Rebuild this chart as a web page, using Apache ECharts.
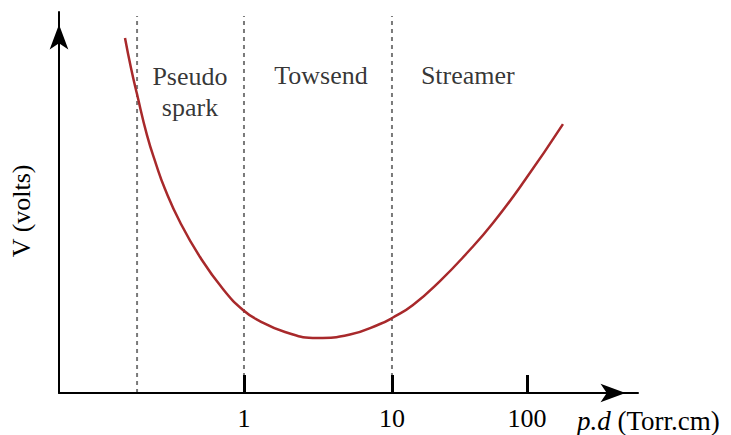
<!DOCTYPE html>
<html>
<head>
<meta charset="utf-8">
<script src="https://cdn.jsdelivr.net/npm/echarts@6/dist/echarts.min.js"></script>
<style>
html,body{margin:0;padding:0;background:#fff;}
#chart{width:731px;height:435px;}
</style>
</head>
<body>
<div id="chart"></div>
<script>
// Paschen curve, x in diagram units (log p.d positions), y in diagram units (V)
const curveX = [1.784, 1.946, 2.108, 2.378, 2.622, 2.865, 3.270, 3.811, 4.432, 4.973, 5.378, 6.108, 6.973, 7.865, 8.676, 9.027, 9.568, 10.297, 11.027, 11.730, 12.595, 13.622];
const curveY = [9.595, 8.784, 8.081, 6.973, 6.189, 5.514, 4.622, 3.676, 2.811, 2.243, 1.973, 1.649, 1.486, 1.581, 1.865, 2.041, 2.378, 3.027, 3.784, 4.595, 5.757, 7.270];
const regionBounds = [2.11, 5.0, 9.0];
const regionNames = ['Pseudo\nspark', 'Towsend', 'Streamer'];
const regionLabelX = [3.54, 7.08, 11.05];
const regionLabelY = [8.14, 8.57, 8.57];
const tickPos = [5.0, 9.0, 12.65];
const tickLabels = ['1', '10', '100'];
const xTitle = '{i|p.d} (Torr.cm)';
const yTitle = 'V (volts)';
const xMax = 15.65, yMax = 10.3, boundTop = 10.19;

const FONT = "'Liberation Serif', 'DejaVu Serif', serif";
const chart = echarts.init(document.getElementById('chart'), null, {renderer: 'svg'});

const series = [];
regionBounds.forEach(function (b) {
  series.push({
    type: 'line', symbol: 'none', silent: true, clip: false,
    data: [[b, 0], [b, boundTop]],
    lineStyle: {color: '#7a7a7a', width: 2, type: [4, 4]},
    z: 1
  });
});
series.push({
  type: 'line', symbol: 'none', smooth: 0.5,
  data: curveX.map(function (x, i) { return [x, curveY[i]]; }),
  lineStyle: {color: '#a8292b', width: 2.5},
  z: 4
});
series.push({
  type: 'scatter', symbolSize: 0,
  data: regionNames.map(function (n, i) { return {value: [regionLabelX[i], regionLabelY[i]], name: n}; }),
  label: {
    show: true, position: 'inside', formatter: '{b}',
    fontFamily: FONT, fontSize: 26, color: '#000', lineHeight: 31, align: 'center', verticalAlign: 'middle'
  },
  z: 5
});

chart.setOption({
  animation: false,
  backgroundColor: '#fff',
  grid: {left: 59, top: 12, right: 93, bottom: 42, containLabel: false, outerBoundsMode: 'none'},
  graphic: [{
    type: 'text', left: 8, top: 164, rotation: Math.PI / 2, silent: true,
    style: {text: yTitle, fontFamily: FONT, fontSize: 26, fill: '#000', align: 'center', verticalAlign: 'middle'}
  }],
  xAxis: {
    type: 'value', min: 0, max: xMax, z: 3,
    splitLine: {show: false},
    axisLine: {show: true, onZero: false, symbol: ['none', 'arrow'], symbolSize: [14, 25], symbolOffset: [0, -12.5],
      lineStyle: {color: '#000', width: 2}},
    axisTick: {show: true, inside: true, length: 18, customValues: tickPos, lineStyle: {color: '#000', width: 3}},
    axisLabel: {show: true, customValues: tickPos, margin: 12,
      fontFamily: FONT, fontSize: 26, color: '#000',
      formatter: function (v) {
        let best = 0;
        tickPos.forEach(function (p, i) { if (Math.abs(p - v) < Math.abs(tickPos[best] - v)) best = i; });
        return tickLabels[best];
      }},
    name: xTitle,
    nameLocation: 'end', nameGap: -61,
    nameTextStyle: {fontFamily: FONT, fontSize: 27, color: '#000', align: 'left', verticalAlign: 'top', padding: [14, 0, 0, 0],
      rich: {i: {fontFamily: FONT, fontSize: 27, fontStyle: 'italic', color: '#000'}}}
  },
  yAxis: {
    type: 'value', min: 0, max: yMax, z: 3,
    splitLine: {show: false},
    axisLine: {show: true, onZero: false, symbol: ['none', 'arrow'], symbolSize: [14, 25], symbolOffset: [0, -12.5],
      lineStyle: {color: '#000', width: 2}},
    axisTick: {show: false},
    axisLabel: {show: false}
  },
  series: series
});
</script>
</body>
</html>
